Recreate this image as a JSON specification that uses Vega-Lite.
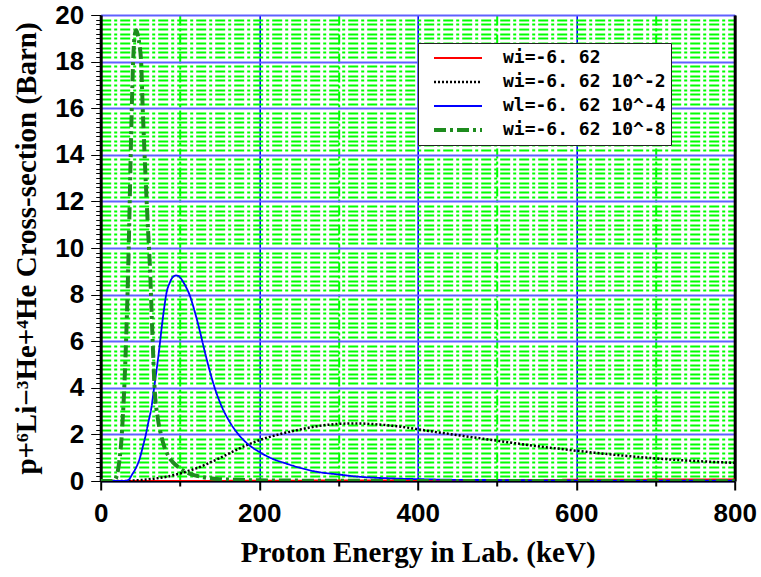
{
  "$schema": "https://vega.github.io/schema/vega-lite/v6.json",
  "width": 634,
  "height": 466,
  "autosize": {"type": "none"},
  "padding": {"left": 100.7, "top": 15, "right": 26.3, "bottom": 96},
  "background": "white",
  "config": {
    "view": {"stroke": "#999999", "strokeWidth": 1},
    "axis": {"labelFont": "Liberation Sans", "labelFontWeight": "bold", "labelFontSize": 26, "labelColor": "black", "titleFont": "Liberation Serif", "titleFontWeight": "bold", "titleFontSize": 29, "titleColor": "black"}
  },
  "data": {"values": [
    {"series": "wi=-6. 62", "E": 0, "sigma": 0},
    {"series": "wi=-6. 62", "E": 100, "sigma": 0},
    {"series": "wi=-6. 62", "E": 200, "sigma": 0.01},
    {"series": "wi=-6. 62", "E": 300, "sigma": 0.02},
    {"series": "wi=-6. 62", "E": 400, "sigma": 0.03},
    {"series": "wi=-6. 62", "E": 500, "sigma": 0.04},
    {"series": "wi=-6. 62", "E": 600, "sigma": 0.05},
    {"series": "wi=-6. 62", "E": 700, "sigma": 0.06},
    {"series": "wi=-6. 62", "E": 800, "sigma": 0.07},
    {"series": "wi=-6. 62 10^-2", "E": 0, "sigma": 0},
    {"series": "wi=-6. 62 10^-2", "E": 30, "sigma": 0},
    {"series": "wi=-6. 62 10^-2", "E": 40, "sigma": 0.02},
    {"series": "wi=-6. 62 10^-2", "E": 50, "sigma": 0.04},
    {"series": "wi=-6. 62 10^-2", "E": 60, "sigma": 0.07},
    {"series": "wi=-6. 62 10^-2", "E": 70, "sigma": 0.11},
    {"series": "wi=-6. 62 10^-2", "E": 83, "sigma": 0.18},
    {"series": "wi=-6. 62 10^-2", "E": 100, "sigma": 0.32},
    {"series": "wi=-6. 62 10^-2", "E": 115, "sigma": 0.48},
    {"series": "wi=-6. 62 10^-2", "E": 125, "sigma": 0.6},
    {"series": "wi=-6. 62 10^-2", "E": 137, "sigma": 0.78},
    {"series": "wi=-6. 62 10^-2", "E": 150, "sigma": 0.98},
    {"series": "wi=-6. 62 10^-2", "E": 166, "sigma": 1.25},
    {"series": "wi=-6. 62 10^-2", "E": 183, "sigma": 1.52},
    {"series": "wi=-6. 62 10^-2", "E": 200, "sigma": 1.75},
    {"series": "wi=-6. 62 10^-2", "E": 225, "sigma": 2.0},
    {"series": "wi=-6. 62 10^-2", "E": 250, "sigma": 2.2},
    {"series": "wi=-6. 62 10^-2", "E": 275, "sigma": 2.36},
    {"series": "wi=-6. 62 10^-2", "E": 300, "sigma": 2.45},
    {"series": "wi=-6. 62 10^-2", "E": 320, "sigma": 2.47},
    {"series": "wi=-6. 62 10^-2", "E": 340, "sigma": 2.45},
    {"series": "wi=-6. 62 10^-2", "E": 368, "sigma": 2.37},
    {"series": "wi=-6. 62 10^-2", "E": 389, "sigma": 2.28},
    {"series": "wi=-6. 62 10^-2", "E": 400, "sigma": 2.22},
    {"series": "wi=-6. 62 10^-2", "E": 450, "sigma": 1.97},
    {"series": "wi=-6. 62 10^-2", "E": 500, "sigma": 1.73},
    {"series": "wi=-6. 62 10^-2", "E": 550, "sigma": 1.5},
    {"series": "wi=-6. 62 10^-2", "E": 600, "sigma": 1.3},
    {"series": "wi=-6. 62 10^-2", "E": 650, "sigma": 1.12},
    {"series": "wi=-6. 62 10^-2", "E": 700, "sigma": 0.97},
    {"series": "wi=-6. 62 10^-2", "E": 750, "sigma": 0.86},
    {"series": "wi=-6. 62 10^-2", "E": 800, "sigma": 0.78},
    {"series": "wl=-6. 62 10^-4", "E": 0, "sigma": 0},
    {"series": "wl=-6. 62 10^-4", "E": 30, "sigma": 0},
    {"series": "wl=-6. 62 10^-4", "E": 35, "sigma": 0.05},
    {"series": "wl=-6. 62 10^-4", "E": 40, "sigma": 0.3},
    {"series": "wl=-6. 62 10^-4", "E": 45, "sigma": 0.6},
    {"series": "wl=-6. 62 10^-4", "E": 50, "sigma": 1.05},
    {"series": "wl=-6. 62 10^-4", "E": 53, "sigma": 1.45},
    {"series": "wl=-6. 62 10^-4", "E": 57, "sigma": 2.0},
    {"series": "wl=-6. 62 10^-4", "E": 60, "sigma": 2.5},
    {"series": "wl=-6. 62 10^-4", "E": 64, "sigma": 3.15},
    {"series": "wl=-6. 62 10^-4", "E": 67, "sigma": 3.9},
    {"series": "wl=-6. 62 10^-4", "E": 70.5, "sigma": 4.76},
    {"series": "wl=-6. 62 10^-4", "E": 74, "sigma": 5.7},
    {"series": "wl=-6. 62 10^-4", "E": 77, "sigma": 6.6},
    {"series": "wl=-6. 62 10^-4", "E": 80, "sigma": 7.4},
    {"series": "wl=-6. 62 10^-4", "E": 83, "sigma": 8.07},
    {"series": "wl=-6. 62 10^-4", "E": 87, "sigma": 8.5},
    {"series": "wl=-6. 62 10^-4", "E": 91, "sigma": 8.75},
    {"series": "wl=-6. 62 10^-4", "E": 95, "sigma": 8.82},
    {"series": "wl=-6. 62 10^-4", "E": 98, "sigma": 8.8},
    {"series": "wl=-6. 62 10^-4", "E": 101, "sigma": 8.7},
    {"series": "wl=-6. 62 10^-4", "E": 104, "sigma": 8.55},
    {"series": "wl=-6. 62 10^-4", "E": 108, "sigma": 8.3},
    {"series": "wl=-6. 62 10^-4", "E": 112, "sigma": 8.0},
    {"series": "wl=-6. 62 10^-4", "E": 118, "sigma": 7.35},
    {"series": "wl=-6. 62 10^-4", "E": 125, "sigma": 6.45},
    {"series": "wl=-6. 62 10^-4", "E": 131, "sigma": 5.6},
    {"series": "wl=-6. 62 10^-4", "E": 137, "sigma": 4.8},
    {"series": "wl=-6. 62 10^-4", "E": 145, "sigma": 3.88},
    {"series": "wl=-6. 62 10^-4", "E": 154, "sigma": 3.1},
    {"series": "wl=-6. 62 10^-4", "E": 162, "sigma": 2.58},
    {"series": "wl=-6. 62 10^-4", "E": 175, "sigma": 1.95},
    {"series": "wl=-6. 62 10^-4", "E": 187, "sigma": 1.55},
    {"series": "wl=-6. 62 10^-4", "E": 200, "sigma": 1.25},
    {"series": "wl=-6. 62 10^-4", "E": 217, "sigma": 0.95},
    {"series": "wl=-6. 62 10^-4", "E": 234, "sigma": 0.75},
    {"series": "wl=-6. 62 10^-4", "E": 250, "sigma": 0.58},
    {"series": "wl=-6. 62 10^-4", "E": 272, "sigma": 0.4},
    {"series": "wl=-6. 62 10^-4", "E": 300, "sigma": 0.28},
    {"series": "wl=-6. 62 10^-4", "E": 320, "sigma": 0.2},
    {"series": "wl=-6. 62 10^-4", "E": 340, "sigma": 0.15},
    {"series": "wl=-6. 62 10^-4", "E": 368, "sigma": 0.11},
    {"series": "wl=-6. 62 10^-4", "E": 400, "sigma": 0.08},
    {"series": "wl=-6. 62 10^-4", "E": 450, "sigma": 0.05},
    {"series": "wl=-6. 62 10^-4", "E": 500, "sigma": 0.04},
    {"series": "wl=-6. 62 10^-4", "E": 600, "sigma": 0.02},
    {"series": "wl=-6. 62 10^-4", "E": 800, "sigma": 0.01},
    {"series": "wi=-6. 62 10^-8", "E": 0, "sigma": 0},
    {"series": "wi=-6. 62 10^-8", "E": 15, "sigma": 0},
    {"series": "wi=-6. 62 10^-8", "E": 18, "sigma": 0.05},
    {"series": "wi=-6. 62 10^-8", "E": 20, "sigma": 0.2},
    {"series": "wi=-6. 62 10^-8", "E": 22, "sigma": 0.5},
    {"series": "wi=-6. 62 10^-8", "E": 24, "sigma": 1.0},
    {"series": "wi=-6. 62 10^-8", "E": 26, "sigma": 1.7},
    {"series": "wi=-6. 62 10^-8", "E": 28, "sigma": 2.8},
    {"series": "wi=-6. 62 10^-8", "E": 30, "sigma": 4.2},
    {"series": "wi=-6. 62 10^-8", "E": 32, "sigma": 6.0},
    {"series": "wi=-6. 62 10^-8", "E": 34, "sigma": 8.2},
    {"series": "wi=-6. 62 10^-8", "E": 36, "sigma": 11},
    {"series": "wi=-6. 62 10^-8", "E": 38, "sigma": 14.2},
    {"series": "wi=-6. 62 10^-8", "E": 40, "sigma": 17},
    {"series": "wi=-6. 62 10^-8", "E": 42, "sigma": 18.8},
    {"series": "wi=-6. 62 10^-8", "E": 44, "sigma": 19.3},
    {"series": "wi=-6. 62 10^-8", "E": 45, "sigma": 19.35},
    {"series": "wi=-6. 62 10^-8", "E": 47, "sigma": 19.1},
    {"series": "wi=-6. 62 10^-8", "E": 49, "sigma": 18.7},
    {"series": "wi=-6. 62 10^-8", "E": 51, "sigma": 18},
    {"series": "wi=-6. 62 10^-8", "E": 53, "sigma": 16},
    {"series": "wi=-6. 62 10^-8", "E": 55, "sigma": 14.3},
    {"series": "wi=-6. 62 10^-8", "E": 58, "sigma": 12},
    {"series": "wi=-6. 62 10^-8", "E": 60, "sigma": 10.6},
    {"series": "wi=-6. 62 10^-8", "E": 62, "sigma": 9.3},
    {"series": "wi=-6. 62 10^-8", "E": 65, "sigma": 6.5},
    {"series": "wi=-6. 62 10^-8", "E": 68, "sigma": 4.0},
    {"series": "wi=-6. 62 10^-8", "E": 72, "sigma": 2.7},
    {"series": "wi=-6. 62 10^-8", "E": 76, "sigma": 2.0},
    {"series": "wi=-6. 62 10^-8", "E": 80, "sigma": 1.5},
    {"series": "wi=-6. 62 10^-8", "E": 85, "sigma": 1.1},
    {"series": "wi=-6. 62 10^-8", "E": 90, "sigma": 0.85},
    {"series": "wi=-6. 62 10^-8", "E": 96, "sigma": 0.65},
    {"series": "wi=-6. 62 10^-8", "E": 104, "sigma": 0.45},
    {"series": "wi=-6. 62 10^-8", "E": 112, "sigma": 0.32},
    {"series": "wi=-6. 62 10^-8", "E": 128, "sigma": 0.17},
    {"series": "wi=-6. 62 10^-8", "E": 150, "sigma": 0.08},
    {"series": "wi=-6. 62 10^-8", "E": 200, "sigma": 0.03},
    {"series": "wi=-6. 62 10^-8", "E": 300, "sigma": 0.01},
    {"series": "wi=-6. 62 10^-8", "E": 500, "sigma": 0},
    {"series": "wi=-6. 62 10^-8", "E": 800, "sigma": 0}
  ]},
  "resolve": {"axis": {"x": "independent", "y": "independent"}},
  "layer": [
    {
      "mark": {"type": "line", "interpolate": "monotone", "clip": true},
      "encoding": {
        "x": {
          "field": "E", "type": "quantitative",
          "scale": {"domain": [0, 800], "nice": false, "zero": false},
          "axis": {
            "title": "Proton Energy in Lab. (keV)",
            "titlePadding": 12,
            "values": [0, 100, 200, 300, 400, 500, 600, 700, 800],
            "labelExpr": "datum.value % 200 === 0 ? datum.label : ''",
            "labelPadding": 10,
            "labelOverlap": false,
            "labelFlush": false,
            "domainColor": "black", "domainWidth": 2,
            "tickColor": "black", "tickWidth": 2,
            "tickSize": {"condition": {"test": "datum.value % 200 === 0", "value": 9}, "value": 5},
            "grid": true,
            "gridColor": {"condition": {"test": "datum.value % 200 === 0", "value": "#0000ff"}, "value": "#00ff00"},
            "gridDash": {"condition": {"test": "datum.value % 200 === 0", "value": []}, "value": [10, 3, 3, 3]},
            "gridWidth": {"condition": {"test": "datum.value % 200 === 0", "value": 1.6}, "value": 2},
            "gridOpacity": 1
          }
        },
        "y": {
          "field": "sigma", "type": "quantitative",
          "scale": {"domain": [0, 20], "nice": false},
          "axis": {
            "title": "p+⁶Li−³He+⁴He Cross-section (Barn)",
            "titlePadding": 13,
            "values": [0, 0.2, 0.4, 0.6, 0.8, 1, 1.2, 1.4, 1.6, 1.8, 2, 2.2, 2.4, 2.6, 2.8, 3, 3.2, 3.4, 3.6, 3.8, 4, 4.2, 4.4, 4.6, 4.8, 5, 5.2, 5.4, 5.6, 5.8, 6, 6.2, 6.4, 6.6, 6.8, 7, 7.2, 7.4, 7.6, 7.8, 8, 8.2, 8.4, 8.6, 8.8, 9, 9.2, 9.4, 9.6, 9.8, 10, 10.2, 10.4, 10.6, 10.8, 11, 11.2, 11.4, 11.6, 11.8, 12, 12.2, 12.4, 12.6, 12.8, 13, 13.2, 13.4, 13.6, 13.8, 14, 14.2, 14.4, 14.6, 14.8, 15, 15.2, 15.4, 15.6, 15.8, 16, 16.2, 16.4, 16.6, 16.8, 17, 17.2, 17.4, 17.6, 17.8, 18, 18.2, 18.4, 18.6, 18.8, 19, 19.2, 19.4, 19.6, 19.8, 20],
            "labelExpr": "abs(datum.value/2 - round(datum.value/2)) < 0.001 ? format(datum.value, 'd') : ''",
            "labelPadding": 7,
            "labelOverlap": false,
            "labelFlush": false,
            "labelBound": false,
            "domainColor": "black", "domainWidth": 3,
            "tickColor": "black", "tickWidth": 1,
            "tickSize": {"condition": {"test": "abs(datum.value/2 - round(datum.value/2)) < 0.001", "value": 10}, "value": 5},
            "grid": true,
            "gridColor": {"condition": {"test": "abs(datum.value/2 - round(datum.value/2)) < 0.001", "value": "#6060ff"}, "value": "#00ff00"},
            "gridDash": {"condition": {"test": "abs(datum.value/2 - round(datum.value/2)) < 0.001", "value": []}, "value": [10, 3, 3, 3]},
            "gridWidth": 2,
            "gridOpacity": 1
          }
        },
        "color": {
          "field": "series", "type": "nominal",
          "scale": {"domain": ["wi=-6. 62", "wi=-6. 62 10^-2", "wl=-6. 62 10^-4", "wi=-6. 62 10^-8"], "range": ["#ff0000", "#000000", "#0000ff", "#1e8c1e"]},
          "legend": {"title": null, "orient": "none", "legendX": 317.3, "legendY": 28, "fillColor": "white", "strokeColor": "#222222", "padding": 5, "symbolType": "stroke", "symbolSize": 2304, "clipHeight": 20, "rowPadding": 4, "symbolOffset": 9, "labelOffset": 19, "labelFont": "DejaVu Sans Mono", "labelFontSize": 18, "labelFontWeight": "bold", "labelColor": "black", "labelLimit": 0}
        },
        "strokeDash": {
          "field": "series", "type": "nominal",
          "scale": {"domain": ["wi=-6. 62", "wi=-6. 62 10^-2", "wl=-6. 62 10^-4", "wi=-6. 62 10^-8"], "range": [[1, 0], [2, 2], [1, 0], [12, 4, 3, 4]]},
          "legend": {"title": null, "orient": "none", "legendX": 317.3, "legendY": 28, "fillColor": "white", "strokeColor": "#222222", "padding": 5, "symbolType": "stroke", "symbolSize": 2304, "clipHeight": 20, "rowPadding": 4, "symbolOffset": 9, "labelOffset": 19, "labelFont": "DejaVu Sans Mono", "labelFontSize": 18, "labelFontWeight": "bold", "labelColor": "black", "labelLimit": 0}
        },
        "strokeWidth": {
          "field": "series", "type": "nominal",
          "scale": {"type": "ordinal", "domain": ["wi=-6. 62", "wi=-6. 62 10^-2", "wl=-6. 62 10^-4", "wi=-6. 62 10^-8"], "range": [2, 2.5, 1.8, 4]},
          "legend": {"title": null, "orient": "none", "legendX": 317.3, "legendY": 28, "fillColor": "white", "strokeColor": "#222222", "padding": 5, "symbolType": "stroke", "symbolSize": 2304, "clipHeight": 20, "rowPadding": 4, "symbolOffset": 9, "labelOffset": 19, "labelFont": "DejaVu Sans Mono", "labelFontSize": 18, "labelFontWeight": "bold", "labelColor": "black", "labelLimit": 0}
        }
      }
    },
    {
      "mark": {"type": "line", "opacity": 0},
      "encoding": {
        "x": {"field": "E", "type": "quantitative", "axis": null},
        "y": {"field": "sigma", "type": "quantitative", "axis": {"orient": "right", "title": null, "labels": false, "ticks": false, "grid": false, "domainColor": "black", "domainWidth": 3}},
        "detail": {"field": "series"}
      }
    }
  ]
}
